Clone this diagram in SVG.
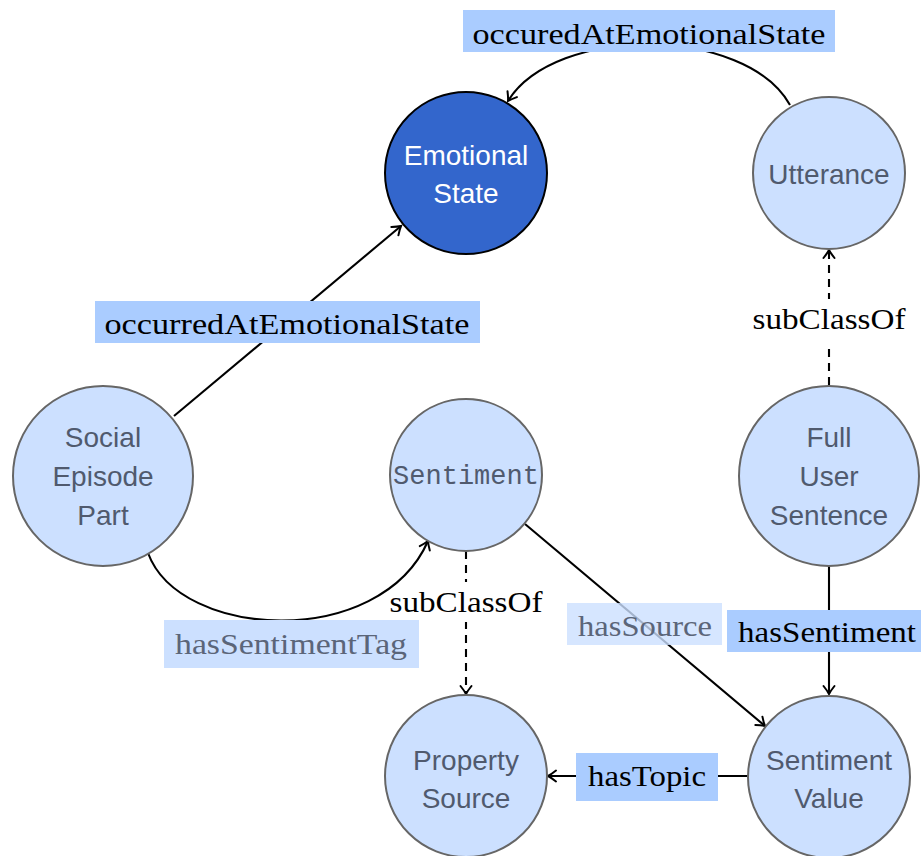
<svg xmlns="http://www.w3.org/2000/svg" width="922" height="856" viewBox="0 0 922 856">
  <style>
    .node { fill: #cce0ff; stroke: #666666; stroke-width: 2; }
    .node-dark { fill: #3366cc; stroke: #000000; stroke-width: 2; }
    .ntext { font-family: "Liberation Sans", "DejaVu Sans", sans-serif; font-size: 28px; fill: #505a6e; text-anchor: middle; }
    .ntext-dark { font-family: "Liberation Sans", "DejaVu Sans", sans-serif; font-size: 28px; fill: #ffffff; text-anchor: middle; }
    .mono { font-family: "Liberation Mono", "DejaVu Sans Mono", monospace; font-size: 27px; fill: #505a6e; text-anchor: middle; }
    .edge { fill: none; stroke: #000000; stroke-width: 2.1; }
    .dashed { stroke-dasharray: 8 6; }
    .lbl { font-family: "Liberation Serif", "DejaVu Serif", serif; font-size: 29px; fill: #000000; text-anchor: middle; }
    .lbl-soft { font-family: "Liberation Serif", "DejaVu Serif", serif; font-size: 29px; fill: #5b6579; text-anchor: middle; }
    .box { fill: #aaccff; }
    .box-soft { fill: #cce0ff; }
    .box-plain { fill: #ffffff; }
  </style>
  <defs>
    <marker id="arrow" markerUnits="userSpaceOnUse" markerWidth="16" markerHeight="16" viewBox="-10 -8 12 16" refX="0" refY="0" orient="auto">
      <path d="M-8,-5.5 Q-3,-1.5 0,0 Q-3,1.5 -8,5.5" fill="none" stroke="#000000" stroke-width="2" stroke-linecap="round"/>
    </marker>
  </defs>

  <!-- connectors -->
  <g id="connectors">
    <!-- Social Episode Part -> Emotional State -->
    <line class="edge" x1="174" y1="416" x2="401" y2="226" marker-end="url(#arrow)"/>
    <!-- Utterance -> Emotional State -->
    <path class="edge" d="M790,105 C745,25 555,25 508,101" marker-end="url(#arrow)"/>
    <!-- Social Episode Part -> Sentiment -->
    <path class="edge" d="M148,553 C180,640 380,650 428,541" marker-end="url(#arrow)"/>
    <!-- Sentiment -> Property Source -->
    <line class="edge dashed" x1="466" y1="551" x2="466" y2="694" marker-end="url(#arrow)"/>
    <!-- Sentiment -> Sentiment Value -->
    <line class="edge" x1="525" y1="524" x2="765" y2="726" marker-end="url(#arrow)"/>
    <!-- Full User Sentence -> Utterance -->
    <line class="edge dashed" x1="829" y1="385" x2="829" y2="250" marker-end="url(#arrow)"/>
    <!-- Full User Sentence -> Sentiment Value -->
    <line class="edge" x1="829" y1="567" x2="829" y2="694" marker-end="url(#arrow)"/>
    <!-- Sentiment Value -> Property Source -->
    <line class="edge" x1="748" y1="776" x2="548" y2="776" marker-end="url(#arrow)"/>

    <!-- edge labels -->
    <rect class="box" x="463" y="10" width="372" height="42"/>
    <text class="lbl" x="649" y="44" textLength="353" lengthAdjust="spacingAndGlyphs">occuredAtEmotionalState</text>

    <rect class="box" x="95" y="301" width="385" height="42"/>
    <text class="lbl" x="287" y="334" textLength="365" lengthAdjust="spacingAndGlyphs">occurredAtEmotionalState</text>

    <rect class="box-soft" x="164" y="620" width="255" height="48"/>
    <text class="lbl-soft" x="291" y="654" textLength="232" lengthAdjust="spacingAndGlyphs">hasSentimentTag</text>

    <rect class="box-soft" x="567" y="603" width="155" height="42" fill-opacity="0.8"/>
    <text class="lbl-soft" x="645" y="636" textLength="134" lengthAdjust="spacingAndGlyphs">hasSource</text>

    <rect class="box-plain" x="450" y="582" width="32" height="40"/>
    <text class="lbl" x="466" y="612" textLength="153" lengthAdjust="spacingAndGlyphs">subClassOf</text>
    <rect class="box-plain" x="813" y="299" width="32" height="44"/>
    <text class="lbl" x="829" y="329" textLength="153" lengthAdjust="spacingAndGlyphs">subClassOf</text>

    <rect class="box" x="727" y="610" width="194" height="42"/>
    <text class="lbl" x="827" y="642" textLength="178" lengthAdjust="spacingAndGlyphs">hasSentiment</text>

    <rect class="box" x="576" y="753" width="142" height="48"/>
    <text class="lbl" x="647" y="786" textLength="118" lengthAdjust="spacingAndGlyphs">hasTopic</text>
  </g>

  <!-- nodes -->
  <g id="emotional-state">
    <circle class="node-dark" cx="466" cy="173" r="81"/>
    <text class="ntext-dark" x="466" y="165">Emotional</text>
    <text class="ntext-dark" x="466" y="203">State</text>
  </g>
  <g id="utterance">
    <circle class="node" cx="829" cy="173" r="76"/>
    <text class="ntext" x="829" y="184">Utterance</text>
  </g>
  <g id="social-episode-part">
    <circle class="node" cx="103" cy="476" r="90"/>
    <text class="ntext" x="103" y="447">Social</text>
    <text class="ntext" x="103" y="486">Episode</text>
    <text class="ntext" x="103" y="525">Part</text>
  </g>
  <g id="sentiment">
    <circle class="node" cx="466" cy="475" r="76"/>
    <text class="mono" x="466" y="484">Sentiment</text>
  </g>
  <g id="full-user-sentence">
    <circle class="node" cx="829" cy="476" r="90"/>
    <text class="ntext" x="829" y="447">Full</text>
    <text class="ntext" x="829" y="486">User</text>
    <text class="ntext" x="829" y="525">Sentence</text>
  </g>
  <g id="property-source">
    <circle class="node" cx="466" cy="776" r="81"/>
    <text class="ntext" x="466" y="770">Property</text>
    <text class="ntext" x="466" y="808">Source</text>
  </g>
  <g id="sentiment-value">
    <circle class="node" cx="829" cy="777" r="81"/>
    <text class="ntext" x="829" y="770">Sentiment</text>
    <text class="ntext" x="829" y="808">Value</text>
  </g>
</svg>
